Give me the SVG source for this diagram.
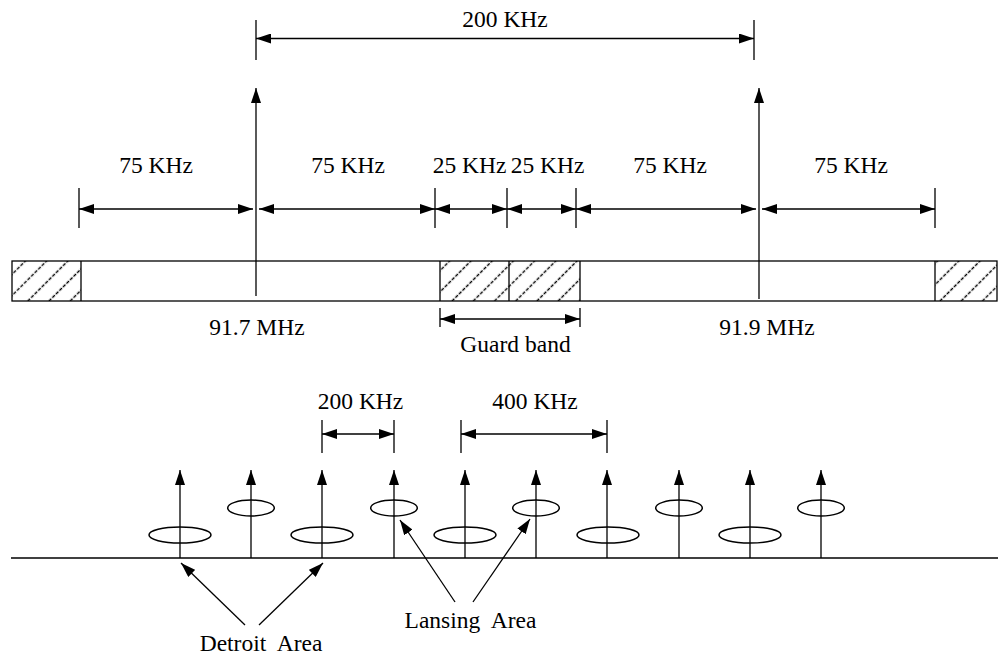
<svg xmlns="http://www.w3.org/2000/svg" width="998" height="657" viewBox="0 0 998 657">
<defs>
<style>
.ln{stroke:#000;stroke-width:1.3;fill:none}
.ar{stroke:#000;stroke-width:1.3;fill:none;marker-end:url(#ah)}
.dd{stroke:#000;stroke-width:1.3;fill:none;marker-start:url(#ah);marker-end:url(#ah)}
.el{stroke:#000;stroke-width:1.5;fill:none}
text{font-family:"Liberation Serif","Times New Roman",serif;font-size:23.5px;fill:#000;text-anchor:middle}
</style>
<marker id="ah" markerUnits="userSpaceOnUse" markerWidth="15" markerHeight="10" refX="15" refY="5" orient="auto-start-reverse" viewBox="0 0 15 10">
<path d="M0,0 L15,5 L0,10 z" fill="#000"/>
</marker>
<pattern id="hatch" patternUnits="userSpaceOnUse" width="15" height="15" patternTransform="rotate(45)">
<line x1="7.5" y1="0" x2="7.5" y2="15" stroke="#000" stroke-width="1.4" stroke-dasharray="3.5 1.5"/>
</pattern>
</defs>
<rect width="998" height="657" fill="#fff"/>

<g id="band">
<rect x="12" y="261" width="69" height="40" fill="url(#hatch)"/>
<rect x="440" y="261" width="140" height="40" fill="url(#hatch)"/>
<rect x="935" y="261" width="62" height="40" fill="url(#hatch)"/>
<rect x="12" y="261" width="985" height="40" class="ln"/>
<path class="ln" d="M81,261V301M440,261V301M509,261V301M580,261V301M935,261V301"/>
</g>

<g id="carrier-917">
<line class="ar" x1="256" y1="296" x2="256" y2="88"/>
<text x="257" y="335">91.7 MHz</text>
</g>
<g id="carrier-919">
<line class="ar" x1="759" y1="299" x2="759" y2="88"/>
<text x="767" y="335">91.9 MHz</text>
</g>

<g id="dim-200-top">
<path class="ln" d="M256,20V60M754,20V60"/>
<line class="dd" x1="256" y1="38.5" x2="754" y2="38.5"/>
<text x="505" y="26.5">200 KHz</text>
</g>

<g id="dims-row">
<path class="ln" d="M79,188V228M435,188V228M507,188V228M576,188V228M935,188V228"/>
<line class="dd" x1="79" y1="209" x2="253" y2="209"/>
<line class="dd" x1="259" y1="209" x2="435" y2="209"/>
<line class="dd" x1="435" y1="209" x2="507" y2="209"/>
<line class="dd" x1="507" y1="209" x2="576" y2="209"/>
<line class="dd" x1="576" y1="209" x2="756" y2="209"/>
<line class="dd" x1="762" y1="209" x2="935" y2="209"/>
<text x="156" y="173">75 KHz</text>
<text x="348" y="173">75 KHz</text>
<text x="469.5" y="173">25 KHz</text>
<text x="547.5" y="173">25 KHz</text>
<text x="670" y="173">75 KHz</text>
<text x="851" y="173">75 KHz</text>
</g>

<g id="guard-band">
<path class="ln" d="M440,308V327M580,308V327"/>
<line class="dd" x1="440" y1="319" x2="580" y2="319"/>
<text x="515.5" y="351.5">Guard band</text>
</g>

<g id="axis">
<line class="ln" x1="11" y1="558" x2="998" y2="558"/>
</g>

<g id="stations">
<line class="ar" x1="180" y1="558" x2="180" y2="470"/>
<line class="ar" x1="251" y1="558" x2="251" y2="470"/>
<line class="ar" x1="322" y1="558" x2="322" y2="470"/>
<line class="ar" x1="394" y1="558" x2="394" y2="470"/>
<line class="ar" x1="465" y1="558" x2="465" y2="470"/>
<line class="ar" x1="536" y1="558" x2="536" y2="470"/>
<line class="ar" x1="607" y1="558" x2="607" y2="470"/>
<line class="ar" x1="679" y1="558" x2="679" y2="470"/>
<line class="ar" x1="750" y1="558" x2="750" y2="470"/>
<line class="ar" x1="821" y1="558" x2="821" y2="470"/>
<ellipse class="el" cx="180" cy="535" rx="31" ry="8"/>
<ellipse class="el" cx="322" cy="535" rx="31" ry="8"/>
<ellipse class="el" cx="465" cy="535" rx="31" ry="8"/>
<ellipse class="el" cx="608" cy="535" rx="31" ry="8"/>
<ellipse class="el" cx="750" cy="535" rx="31" ry="8"/>
<ellipse class="el" cx="251" cy="508" rx="23.3" ry="8"/>
<ellipse class="el" cx="394" cy="508" rx="23.3" ry="8"/>
<ellipse class="el" cx="536" cy="508" rx="23.3" ry="8"/>
<ellipse class="el" cx="679" cy="508" rx="23.3" ry="8"/>
<ellipse class="el" cx="821" cy="508" rx="23.3" ry="8"/>
</g>

<g id="dim-200-bottom">
<path class="ln" d="M322,420V453M394,420V453"/>
<line class="dd" x1="322" y1="434" x2="394" y2="434"/>
<text x="360.5" y="409">200 KHz</text>
</g>
<g id="dim-400">
<path class="ln" d="M461,420V453M607,420V453"/>
<line class="dd" x1="461" y1="434" x2="607" y2="434"/>
<text x="535" y="409">400 KHz</text>
</g>

<g id="detroit">
<text x="261" y="651" xml:space="preserve">Detroit  Area</text>
</g>
<g id="lansing">
<text x="470.5" y="628" xml:space="preserve">Lansing  Area</text>
</g>

<g id="connectors">
<line class="ar" x1="245" y1="625" x2="181" y2="563"/>
<line class="ar" x1="259" y1="625" x2="323" y2="563"/>
<line class="ar" x1="455" y1="602" x2="400" y2="520"/>
<line class="ar" x1="473" y1="602" x2="530" y2="519"/>
</g>
</svg>
